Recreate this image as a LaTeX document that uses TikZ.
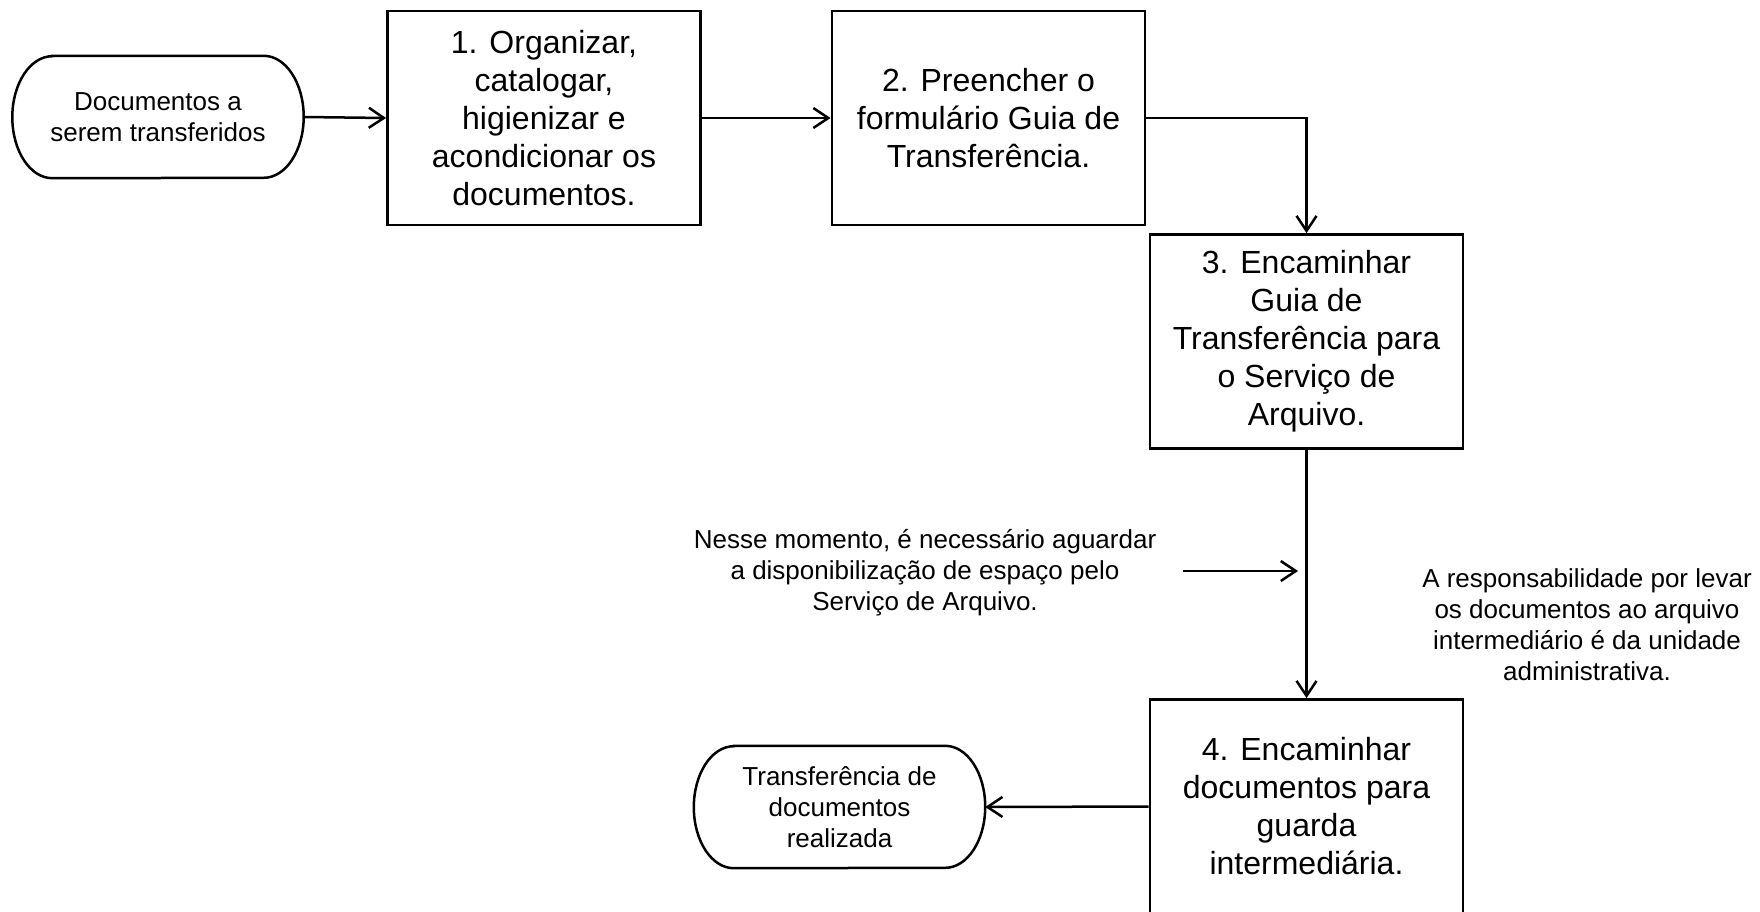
\documentclass[tikz,border=0pt]{standalone}
\usepackage{fontspec}
\setmainfont{Liberation Sans}
\usetikzlibrary{arrows.meta}

\tikzset{
  bigtext/.style={font=\fontsize{32}{38}\selectfont, align=center},
  smalltext/.style={font=\fontsize{26}{31}\selectfont, align=center},
  stepbox/.style={draw, line width=2.8pt, rectangle, minimum width=313pt,
    minimum height=214pt, inner sep=0pt, bigtext},
  termbox/.style={rectangle, minimum width=291pt, minimum height=122pt,
    inner sep=0pt, smalltext},
  termline/.style={line width=2.5pt},
  arr/.style={line width=2.5pt,
    -{Straight Barb[length=15pt,width=20pt,line width=2.5pt]}},
}

% outline of a terminator: straight top and bottom, half-elliptic ends
\newcommand{\terminator}[1]{%
  \draw[termline] ([xshift=40pt]#1.north west) -- ([xshift=-40pt]#1.north east)
    arc[start angle=90, end angle=-90, x radius=40pt, y radius=61pt]
    -- ([xshift=40pt]#1.south west)
    arc[start angle=270, end angle=90, x radius=40pt, y radius=61pt]
    -- cycle;}

\begin{document}
\begin{tikzpicture}[x=1pt, y=-1pt]
  \useasboundingbox (0,0) rectangle (1760,911);
  \clip (0,0) rectangle (1760,911);
  \fill[white] (0,0) rectangle (1760,911);

  % start and end terminators
  \node[termbox] (start) at (158,117) {Documentos a\\serem transferidos};
  \terminator{start}
  \node[termbox] (finish) at (839.5,807) {Transferência de\\documentos\\realizada};
  \terminator{finish}

  % process steps
  \node[stepbox] (s1) at (544,118)
    {1. Organizar,\\catalogar,\\higienizar e\\acondicionar os\\documentos.};
  \node[stepbox] (s2) at (988.5,118)
    {2. Preencher o\\formulário Guia de\\Transferência.};
  \node[stepbox] (s3) at (1306.5,341.5)
    {3. Encaminhar\\Guia de\\Transferência para\\o Serviço de\\Arquivo.};
  \node[stepbox] (s4) at (1306.5,806.5)
    {4. Encaminhar\\documentos para\\guarda\\intermediária.};

  % side notes
  \node[smalltext] (wait) at (925,573)
    {Nesse momento, é necessário aguardar\\a disponibilização de espaço pelo\\Serviço de Arquivo.};
  \node[smalltext] (resp) at (1587,625)
    {A responsabilidade por levar\\os documentos ao arquivo\\intermediário é da unidade\\administrativa.};

  % connectors
  \draw[arr] (start.east) -- (s1.west);
  \draw[arr] (s1.east) -- (s2.west);
  \draw[arr] (s2.east) -| (s3.north);
  \draw[arr] (s3.south) -- (s4.north);
  \draw[arr] (s4.west) -- (finish.east);

  \coordinate (waitS) at (1183,571);
  \coordinate (waitE) at (1298,571);
  \draw[arr] (waitS) -- (waitE);
\end{tikzpicture}
\end{document}
